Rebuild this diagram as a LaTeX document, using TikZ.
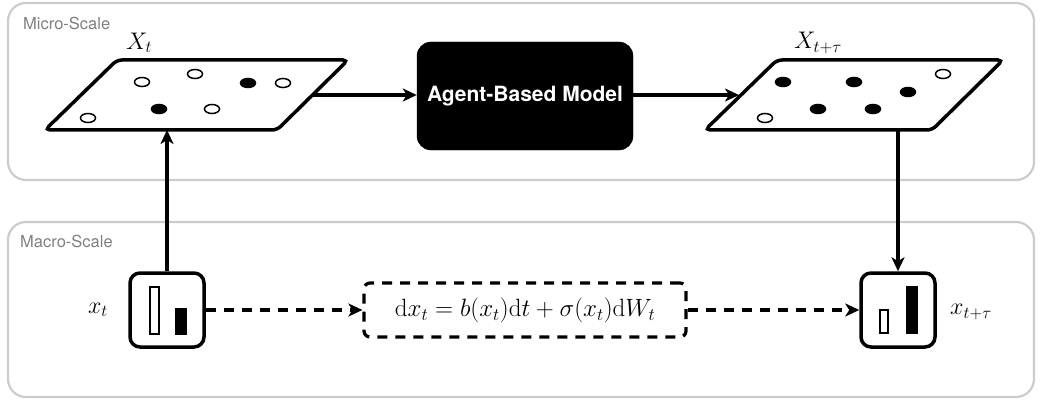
\RequirePackage{fix-cm}
\documentclass[tikz,border=0pt]{standalone}
\usepackage{fontspec}
\newfontfamily\hv{TeX Gyre Heros}
\usetikzlibrary{arrows.meta,shapes.geometric}
\definecolor{contgray}{RGB}{204,204,204}
\definecolor{labgray}{RGB}{128,128,128}
\tikzset{
  container/.style={draw=contgray,line width=2.2pt,rounded corners=18pt},
  scalelabel/.style={anchor=west,text=labgray,font=\hv\fontsize{16.5}{19}\selectfont,inner sep=0pt},
  plane/.style={draw=black,line width=3.5pt,rounded corners=5pt,fill=white},
  agent/.style={ellipse,draw=black,line width=1.5pt,minimum width=15pt,minimum height=9pt,inner sep=0pt},
  openagent/.style={agent,fill=white},
  fullagent/.style={agent,fill=black},
  histbox/.style={draw=black,line width=3.5pt,rounded corners=10pt,minimum width=74pt,minimum height=74pt,fill=white},
  bar/.style={draw=black,line width=1.5pt},
  conn/.style={line width=3.2pt,-{Stealth[length=14pt,width=13pt,inset=4pt]}},
  dconn/.style={conn,dash pattern=on 10pt off 8pt},
  mathlabel/.style={font=\fontsize{24}{28}\selectfont,inner sep=0pt},
}
\begin{document}
\begin{tikzpicture}[x=1pt,y=-1pt]
\useasboundingbox (0,0) rectangle (1041,401);
% containers
\draw[container] (8,3) rectangle (1034,180);
\draw[container] (8,222) rectangle (1034,397);
\node[scalelabel] (micro) at (23,23) {Micro-Scale};
\node[scalelabel] (macro) at (20,241) {Macro-Scale};
% left plane
\draw[plane] (117,60) -- (348,60) -- (277,130) -- (45,130) -- cycle;
\node[mathlabel] (Xt) at (139,43) {$X_t$};
\node[openagent] (a1) at (142,82) {};
\node[openagent] (a2) at (195,74) {};
\node[openagent] (a3) at (283,83) {};
\node[openagent] (a4) at (88,118) {};
\node[openagent] (a5) at (212,109) {};
\node[fullagent] (a6) at (248,83) {};
\node[fullagent] (a7) at (159,109) {};
% right plane
\draw[plane] (777,60) -- (1003,60) -- (932,130) -- (705,130) -- cycle;
\node[mathlabel] (Xtt) at (818,43) {$X_{t+\tau}$};
\node[fullagent] (b1) at (783,82) {};
\node[fullagent] (b2) at (854,82) {};
\node[fullagent] (b3) at (908,92) {};
\node[fullagent] (b4) at (818,109) {};
\node[fullagent] (b5) at (873,109) {};
\node[openagent] (b6) at (943,74) {};
\node[openagent] (b7) at (765,118) {};
% plane edge points
\coordinate (pLr) at (312,95);
\coordinate (pLb) at (167,130);
\coordinate (pRl) at (739,95);
\coordinate (pRb) at (898,130);
% agent based model
\node[draw=black,fill=black,rounded corners=14pt,minimum width=216pt,minimum height=108pt,
      text=white,font=\hv\bfseries\fontsize{21}{25}\selectfont] (abm) at (525,96) {Agent-Based Model};
% macro boxes
\node[histbox] (bl) at (167,310) {};
\draw[bar,fill=white] (150,287) rectangle (159,334);
\draw[bar,fill=black] (176,309) rectangle (186,334);
\node[histbox] (br) at (898,310) {};
\draw[bar,fill=white] (880,310) rectangle (888,333);
\draw[bar,fill=black] (907,287) rectangle (917,333);
\node[mathlabel] (xt) at (98,310) {$x_t$};
\node[mathlabel,anchor=west] (xtt) at (950,312) {$x_{t+\tau}$};
% equation box
\node[draw=black,line width=3.2pt,dash pattern=on 10pt off 8pt,rounded corners=6pt,
      minimum width=322pt,minimum height=54pt,font=\fontsize{25}{29}\selectfont] (eq) at (525,310)
      {$\mathrm{d}x_t = b(x_t)\mathrm{d}t + \sigma(x_t)\mathrm{d}W_t$};
% connectors
\draw[conn] (pLr) -- (abm.west |- pLr);
\draw[conn] (abm.east |- pRl) -- (pRl);
\draw[conn] (bl.north) -- (pLb);
\draw[conn] (pRb) -- (br.north);
\draw[dconn] (bl.east) -- (eq.west);
\draw[dconn] (eq.east) -- (br.west);
\end{tikzpicture}
\end{document}
